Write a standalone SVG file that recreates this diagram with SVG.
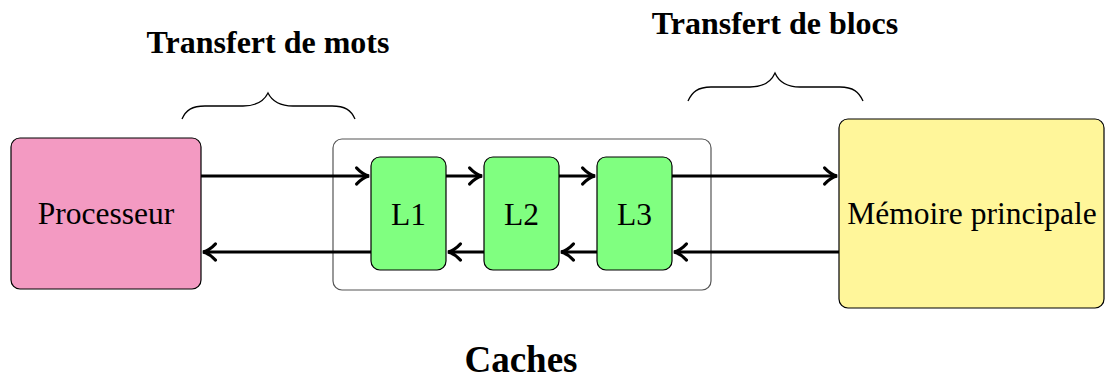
<svg xmlns="http://www.w3.org/2000/svg" width="1105" height="380" viewBox="0 0 1105 380">
<style>
.box{stroke:#000;stroke-width:1.2}
.lbl{font-family:"Liberation Serif","Times New Roman",serif;font-size:31.5px;fill:#000;text-anchor:middle}
.ttl{font-family:"Liberation Serif","Times New Roman",serif;font-weight:bold;fill:#000;text-anchor:middle}
.conn{stroke:#000;stroke-width:3;fill:none;marker-end:url(#to)}
.brace{stroke:#000;stroke-width:1.3;fill:none}
</style>
<defs>
<marker id="to" markerUnits="userSpaceOnUse" markerWidth="20" markerHeight="20" viewBox="-12 -8 16 16" refX="0" refY="0" orient="auto" overflow="visible">
<path d="M-10,-6.5 C-6.5,-2.7 -3.2,-0.8 0,0 C-3.2,0.8 -6.5,2.7 -10,6.5" stroke="#000" stroke-width="2.4" fill="none" stroke-linecap="round"/>
</marker>
</defs>
<g id="labels">
<text class="ttl" x="268" y="53" font-size="32">Transfert de mots</text>
<text class="ttl" x="775" y="34" font-size="32">Transfert de blocs</text>
<text class="ttl" x="521" y="372" font-size="37">Caches</text>
</g>
<g id="braces">
<path class="brace" d="M182,119 C186,110 192,106 205,106 L243,106 C257,106 264,101 268,93 C272,101 279,106 293,106 L332,106 C345,106 351,110 355,119"/>
<path class="brace" d="M688,101 C692,92 698,87 711,87 L750,87 C764,87 771,82 775,73 C779,82 786,87 800,87 L840,87 C853,87 859,92 863,101"/>
</g>
<g id="caches">
<rect x="333" y="139" width="378" height="151" rx="9" fill="none" stroke="#555" stroke-width="1.2"/>
</g>
<g id="processeur">
<rect class="box" x="11" y="138" width="190" height="151" rx="9" fill="#F39AC2"/>
<text class="lbl" x="106" y="224">Processeur</text>
</g>
<g id="L1">
<rect class="box" x="371" y="157" width="75" height="113" rx="9" fill="#80FF80"/>
<text class="lbl" x="408.5" y="225">L1</text>
</g>
<g id="L2">
<rect class="box" x="484" y="157" width="75" height="113" rx="9" fill="#80FF80"/>
<text class="lbl" x="521.5" y="225">L2</text>
</g>
<g id="L3">
<rect class="box" x="597" y="157" width="75" height="113" rx="9" fill="#80FF80"/>
<text class="lbl" x="634.5" y="225">L3</text>
</g>
<g id="memoire">
<rect class="box" x="839" y="119" width="265" height="189" rx="9" fill="#FFF69A"/>
<text class="lbl" x="972" y="224">Mémoire principale</text>
</g>
<g id="connectors">
<line class="conn" x1="201" y1="176" x2="369" y2="176"/>
<line class="conn" x1="446" y1="176" x2="482" y2="176"/>
<line class="conn" x1="559" y1="176" x2="595" y2="176"/>
<line class="conn" x1="672" y1="176" x2="837" y2="176"/>
<line class="conn" x1="839" y1="252" x2="674" y2="252"/>
<line class="conn" x1="597" y1="252" x2="561" y2="252"/>
<line class="conn" x1="484" y1="252" x2="448" y2="252"/>
<line class="conn" x1="371" y1="252" x2="203" y2="252"/>
</g>
</svg>
